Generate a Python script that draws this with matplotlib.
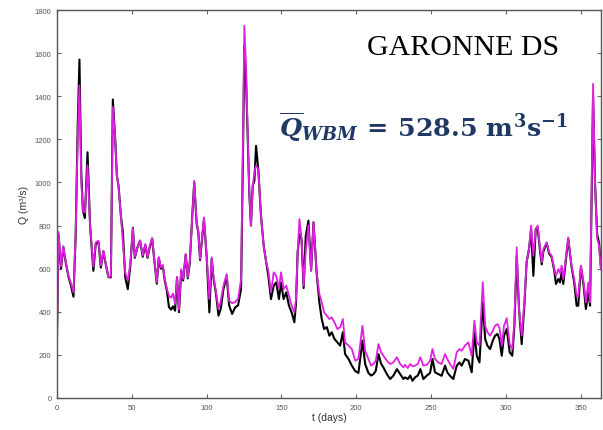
import matplotlib.pyplot as plt

# day of year and discharge (m3/s)
days = [0, 1, 2.7, 4.2, 5.8, 7.6, 9.2, 11, 12.5, 13.8, 15, 16.2, 17.3, 18.6, 20.4,
        22.1, 24.3, 25.9, 27.7, 29.3, 31, 32.6, 34.4, 36, 37.3, 38.9, 40, 41.1, 42.7,
        44, 45.6, 47.3, 49, 50.7, 52, 53.8, 55.5, 57.3, 59, 60.5, 61.8, 63.6, 65,
        66.7, 68, 69.4, 70.7, 72, 73.5, 74.8, 76.2, 77.5, 78.9, 80.2, 81.5, 83, 84.3,
        86, 87.4, 88.7, 90.5, 91.7, 93.3, 94.4, 95.6, 98.2, 100, 101.8, 103.4, 104.5,
        106.3, 107.9, 109.4, 111.2, 113.4, 115, 117, 119, 121, 123, 124.2, 125.2,
        126.3, 127.4, 128.5, 129.6, 130.8, 131.9, 133, 134.5, 136.3, 138.1, 139.8,
        141.2, 143, 144.8, 146.5, 148.3, 149.7, 151.4, 153.2, 155, 156.8, 158.6,
        159.7, 160.8, 162, 163.4, 164.8, 166.2, 168, 169.8, 171.4, 173.5, 175.3,
        176.9, 178.5, 180.3, 182, 183.6, 185.4, 187.4, 189.2, 191, 192.5, 194.8, 197,
        199.3, 201.4, 204.1, 205.9, 208.1, 209.9, 211.5, 213, 214.8, 216.6, 218.1,
        220.4, 222.6, 224.8, 227.1, 229.3, 231.5, 232.6, 234.4, 236, 237.5, 239.3,
        241.1, 242.8, 244.8, 247.1, 249.3, 250.9, 252.6, 254.8, 257, 259.3, 260.8,
        262.6, 264.8, 267.1, 268.9, 270.4, 272.6, 274.9, 277.1, 278.9, 280.5, 282.3,
        284.5, 286.1, 287.6, 289.4, 291.2, 292.7, 294.3, 295.6, 297.2, 298.7, 300.5,
        302.5, 304.2, 305.6, 307.2, 308.7, 310.5, 312.3, 313.8, 315.4, 316.8, 318.3,
        319.9, 321.2, 322.8, 323.9, 325, 327.2, 328.8, 330.5, 332.3, 333.4, 335,
        336.1, 337.2, 338.3, 341.6, 343.8, 345.6, 347.2, 348.3, 350.1, 351.9, 353.4,
        355, 356.2, 358.2, 359.5, 360.9, 362.2, 363.3, 365]

q_obs = [280, 760, 600, 700, 630, 565, 525, 470, 760, 1250, 1570, 1050, 870, 835, 1140,
         800, 590, 715, 725, 605, 680, 620, 560, 560, 1385, 1200, 1031, 985, 846,
         768, 560, 505, 614, 790, 650, 700, 730, 655, 710, 650, 695, 740, 640,
         530, 650, 600, 612, 545, 495, 422, 410, 425, 405, 560, 398, 590, 545,
         665, 555, 625, 860, 1000, 810, 770, 640, 830, 655, 397, 645, 560,
         480, 382, 413, 505, 565, 430, 390, 420, 430, 507, 1100, 1634,
         1480, 1220, 950, 800, 985, 1008, 1170, 1060, 846, 706, 630,
         567, 459, 521, 536, 459, 536, 459, 490, 428, 397, 351,
         440, 676, 760, 738, 510, 750, 823, 591, 815, 580, 444,
         366, 320, 329, 289, 305, 274, 258, 243, 305, 204, 181, 150,
         125, 116, 266, 158, 116, 104, 111, 126, 204, 158, 142,
         111, 88, 104, 134, 111, 88, 96, 88, 104, 80, 96,
         104, 134, 88, 104, 116, 181, 119, 111, 103, 150, 119,
         103, 88, 150, 165, 150, 181, 173, 119, 305, 196, 165,
         444, 274, 243, 227, 266, 289, 297, 274, 196, 289, 320,
         212, 196, 330, 660, 413, 250, 430, 630, 691, 780, 567,
         784, 790, 680, 620, 680, 720, 670, 655, 590, 529, 552,
         536, 583, 529, 740, 610, 536, 428, 428, 610, 521, 413,
         490, 428, 1400, 1000, 761, 720, 620, 560]

q_wbm = [300, 770, 610, 705, 635, 570, 535, 490, 770, 1200, 1450, 1000, 870, 860, 1080,
         800, 610, 722, 730, 614, 683, 622, 560, 565, 1350, 1200, 1031, 985, 846,
         722, 583, 544, 620, 790, 654, 700, 730, 660, 714, 654, 700, 741, 645,
         537, 654, 606, 617, 552, 506, 475, 465, 485, 436, 560, 410, 598, 552,
         668, 560, 630, 862, 1008, 816, 775, 645, 838, 660, 459, 652, 567,
         490, 413, 449, 521, 575, 450, 440, 445, 460, 552, 1150, 1727,
         1541, 1233, 954, 800, 985, 1047, 1078, 1062, 846, 706, 630,
         590, 490, 583, 567, 506, 583, 506, 521, 475, 428, 397,
         459, 676, 830, 738, 521, 680, 800, 591, 815, 583, 482,
         444, 397, 382, 366, 374, 351, 320, 328, 366, 258, 243, 227,
         173, 181, 335, 219, 181, 150, 158, 173, 250, 212, 196,
         173, 158, 165, 189, 158, 142, 154, 139, 158, 147, 150,
         158, 189, 150, 154, 173, 227, 181, 165, 158, 204, 181,
         158, 135, 212, 227, 219, 243, 258, 196, 359, 258, 243,
         537, 335, 305, 289, 312, 335, 343, 328, 243, 335, 370,
         250, 227, 351, 699, 413, 289, 444, 630, 691, 800, 660,
         784, 800, 691, 630, 691, 722, 676, 660, 598, 567, 598,
         580, 614, 552, 745, 614, 552, 475, 470, 614, 536, 444,
         536, 444, 1457, 1000, 740, 707, 600, 580]

x_ticks = [0, 50, 100, 150, 200, 250, 300, 350]
y_ticks = [0, 200, 400, 600, 800, 1000, 1200, 1400, 1600, 1800]

plt.rcParams['font.family'] = ['Liberation Sans', 'DejaVu Sans']
plt.rcParams['mathtext.fontset'] = 'custom'
plt.rcParams['mathtext.rm'] = 'DejaVu Serif:bold'
plt.rcParams['mathtext.it'] = 'DejaVu Serif:bold:italic'
plt.rcParams['mathtext.bf'] = 'DejaVu Serif:bold'

fig = plt.figure(figsize=(6.03, 4.31), dpi=100)
ax = fig.add_axes([57 / 603, 32 / 431, 544 / 603, 388 / 431])

ax.plot(days, q_obs, color='black', lw=1.5)
ax.plot(days, q_wbm, color='#e020e0', lw=1.3)

ax.set_xlim(0, 363.5)
ax.set_ylim(0, 1800)
ax.set_xticks(x_ticks)
ax.set_yticks(y_ticks)
ax.tick_params(direction='in', length=3, width=0.8, top=True, right=True,
               labelsize=5.5, labelcolor='#555555', color='#666666', pad=4)
for s in ax.spines.values():
    s.set_color('#555555')
    s.set_linewidth(1.0)

ax.set_xlabel('t (days)', fontsize=7.5, color='#333333', labelpad=1)
ax.set_ylabel('Q (m³/s)', fontsize=7.5, color='#333333', labelpad=4)

fig.text(367 / 603, 1 - 55 / 431, 'GARONNE DS', family='Liberation Serif',
         fontsize=21.5, va='baseline', ha='left')
fig.text(279 / 603, 1 - 137 / 431,
         r'$\overline{Q}_{WBM}\,=\,528.5\ \mathrm{m^3s^{-1}}$',
         fontsize=18.3, color='#1f3864', va='baseline', ha='left')

fig.savefig('out.png', dpi=100)
